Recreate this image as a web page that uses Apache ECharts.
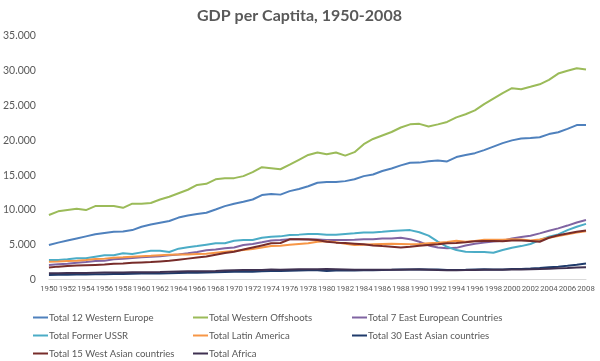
<!DOCTYPE html>
<html><head><meta charset="utf-8">
<script src="https://cdn.jsdelivr.net/npm/echarts@6/dist/echarts.min.js"></script>
<style>html,body{margin:0;padding:0;background:#fff}#c{width:600px;height:361px}</style>
</head><body><div id="c"></div>
<script>
const years = [];
for (let y = 1950; y <= 2008; y++) years.push(String(y));
const yTicks = [0, 5000, 10000, 15000, 20000, 25000, 30000, 35000];

const westernEurope = [4.95,5.3,5.6,5.9,6.2,6.5,6.7,6.85,6.9,7.1,7.58,7.9,8.15,8.4,8.9,9.2,9.4,9.6,10.07,10.55,10.9,11.17,11.5,12.13,12.3,12.2,12.7,13.0,13.4,13.9,14.0,14.0,14.14,14.4,14.86,15.1,15.6,15.96,16.4,16.77,16.8,17.0,17.1,16.97,17.6,17.9,18.16,18.6,19.1,19.6,20.0,20.26,20.35,20.45,20.9,21.17,21.65,22.2,22.2];
const westernOffshoots = [9.27,9.8,10.0,10.16,9.98,10.55,10.55,10.55,10.3,10.9,10.9,11.0,11.5,11.9,12.4,12.9,13.6,13.75,14.4,14.57,14.57,14.86,15.43,16.15,16.0,15.85,16.5,17.2,17.9,18.26,18.0,18.26,17.8,18.3,19.45,20.2,20.7,21.2,21.85,22.3,22.37,22.0,22.3,22.65,23.3,23.75,24.3,25.2,26.0,26.8,27.5,27.35,27.7,28.06,28.7,29.6,30.0,30.36,30.2];
const eastEurope = [2.1,2.2,2.25,2.4,2.5,2.65,2.7,2.9,3.0,3.09,3.2,3.28,3.35,3.47,3.6,3.76,3.95,4.2,4.3,4.48,4.6,4.95,5.1,5.34,5.6,5.67,5.77,5.77,5.8,5.75,5.67,5.67,5.67,5.7,5.8,5.8,5.9,5.9,6.0,5.8,5.43,4.9,4.6,4.5,4.55,4.9,5.15,5.3,5.45,5.57,5.9,6.1,6.3,6.63,7.0,7.35,7.75,8.2,8.55];
const formerUSSR = [2.8,2.8,2.9,3.04,3.04,3.28,3.5,3.5,3.76,3.66,3.9,4.14,4.14,3.95,4.43,4.62,4.8,5.0,5.2,5.2,5.57,5.67,5.67,6.0,6.15,6.2,6.39,6.45,6.55,6.55,6.43,6.43,6.55,6.65,6.77,6.77,6.85,6.96,7.05,7.1,6.8,6.3,5.45,4.7,4.23,4.0,3.95,3.95,3.85,4.23,4.57,4.8,5.1,5.67,6.15,6.49,7.1,7.58,8.0];
const latinAmerica = [2.56,2.6,2.65,2.7,2.8,2.94,3.0,3.13,3.2,3.28,3.35,3.42,3.5,3.55,3.6,3.6,3.65,3.7,3.85,4.0,4.1,4.25,4.4,4.6,4.8,4.85,5.0,5.1,5.2,5.43,5.5,5.35,5.15,4.95,5.0,5.05,5.1,5.15,5.1,5.05,5.1,5.2,5.28,5.4,5.57,5.43,5.55,5.7,5.7,5.7,5.8,5.75,5.6,5.75,6.0,6.25,6.5,6.75,6.95];
const eastAsia = [0.65,0.67,0.69,0.72,0.73,0.75,0.77,0.79,0.8,0.82,0.85,0.87,0.88,0.9,0.94,0.96,0.98,1.0,1.03,1.07,1.1,1.12,1.13,1.2,1.22,1.21,1.26,1.31,1.33,1.33,1.23,1.28,1.3,1.3,1.33,1.34,1.36,1.39,1.43,1.45,1.47,1.45,1.42,1.37,1.37,1.4,1.44,1.46,1.42,1.45,1.5,1.52,1.58,1.65,1.75,1.85,1.98,2.12,2.3];
const westAsia = [1.72,1.85,1.95,2.0,2.05,2.1,2.15,2.25,2.3,2.4,2.45,2.5,2.6,2.7,2.85,3.0,3.15,3.3,3.55,3.8,4.0,4.3,4.6,4.9,5.2,5.25,5.77,5.8,5.75,5.67,5.43,5.3,5.25,5.15,5.05,4.9,4.8,4.72,4.6,4.7,4.85,4.95,5.05,5.2,5.25,5.34,5.5,5.55,5.55,5.5,5.6,5.6,5.55,5.43,6.0,6.35,6.6,6.85,7.05];
const africa = [0.89,0.91,0.92,0.93,0.95,0.97,0.99,1.0,1.0,1.03,1.05,1.05,1.07,1.12,1.15,1.18,1.18,1.18,1.22,1.28,1.33,1.35,1.36,1.38,1.42,1.41,1.45,1.46,1.46,1.49,1.5,1.48,1.45,1.41,1.39,1.4,1.4,1.39,1.41,1.42,1.42,1.4,1.36,1.34,1.34,1.35,1.38,1.39,1.4,1.41,1.43,1.45,1.47,1.5,1.55,1.6,1.65,1.71,1.75];

const seriesNames = ['Total 12 Western Europe','Total Western Offshoots','Total 7 East European Countries','Total Former USSR','Total Latin America','Total 30 East Asian countries','Total 15 West Asian countries','Total Africa'];
const seriesData = [westernEurope, westernOffshoots, eastEurope, formerUSSR, latinAmerica, eastAsia, westAsia, africa];
const colors = ['#4F81BD','#9BBB59','#8064A2','#4BACC6','#F79646','#1F3B6B','#772C2A','#3F3151'];

const FONT = 'Lato';
const chart = echarts.init(document.getElementById('c'), null, {renderer: 'canvas'});
const colX = [33, 193, 352];
const rowY = [312.5, 330.5, 348.5];
const legends = seriesNames.map((n, i) => ({
  left: colX[i % 3], top: rowY[Math.floor(i / 3)], padding: 0,
  data: [n], icon: 'rect', itemWidth: 15, itemHeight: 2, itemGap: 0,
  textStyle: {fontFamily: FONT, fontSize: 9.6, color: '#595959', padding: [0, 0, 0, -4]}
}));
chart.setOption({
  animation: false,
  color: colors,
  title: {text: 'GDP per Captita, 1950-2008', left: 192, top: 3,
    textStyle: {fontFamily: FONT, fontSize: 16, fontWeight: 'bold', color: '#595959'}},
  grid: {left: 46, right: 14, top: 36, bottom: 81.5, containLabel: false},
  legend: legends,
  xAxis: {
    type: 'category', data: years, boundaryGap: false,
    axisLine: {lineStyle: {color: '#D9D9D9', width: 1}},
    axisTick: {show: false},
    axisLabel: {interval: 1, showMinLabel: true, showMaxLabel: true, hideOverlap: false,
      fontFamily: 'Roboto', fontSize: 7.8, color: '#595959', margin: 6}
  },
  yAxis: {
    type: 'value', min: 0, max: 35000, interval: 5000,
    axisLine: {show: false}, axisTick: {show: false}, splitLine: {show: false},
    axisLabel: {fontFamily: FONT, fontSize: 10.5, color: '#595959', margin: 13,
      formatter: v => yTicks.includes(v) ? (v === 0 ? '0' : (v / 1000) + '.000') : ''}
  },
  series: seriesNames.map((n, i) => ({
    name: n, type: 'line', data: seriesData[i].map(v => Math.round(v * 1000)),
    symbol: 'none', lineStyle: {width: 2, color: colors[i]}, itemStyle: {color: colors[i]}
  }))
});
</script></body></html>
